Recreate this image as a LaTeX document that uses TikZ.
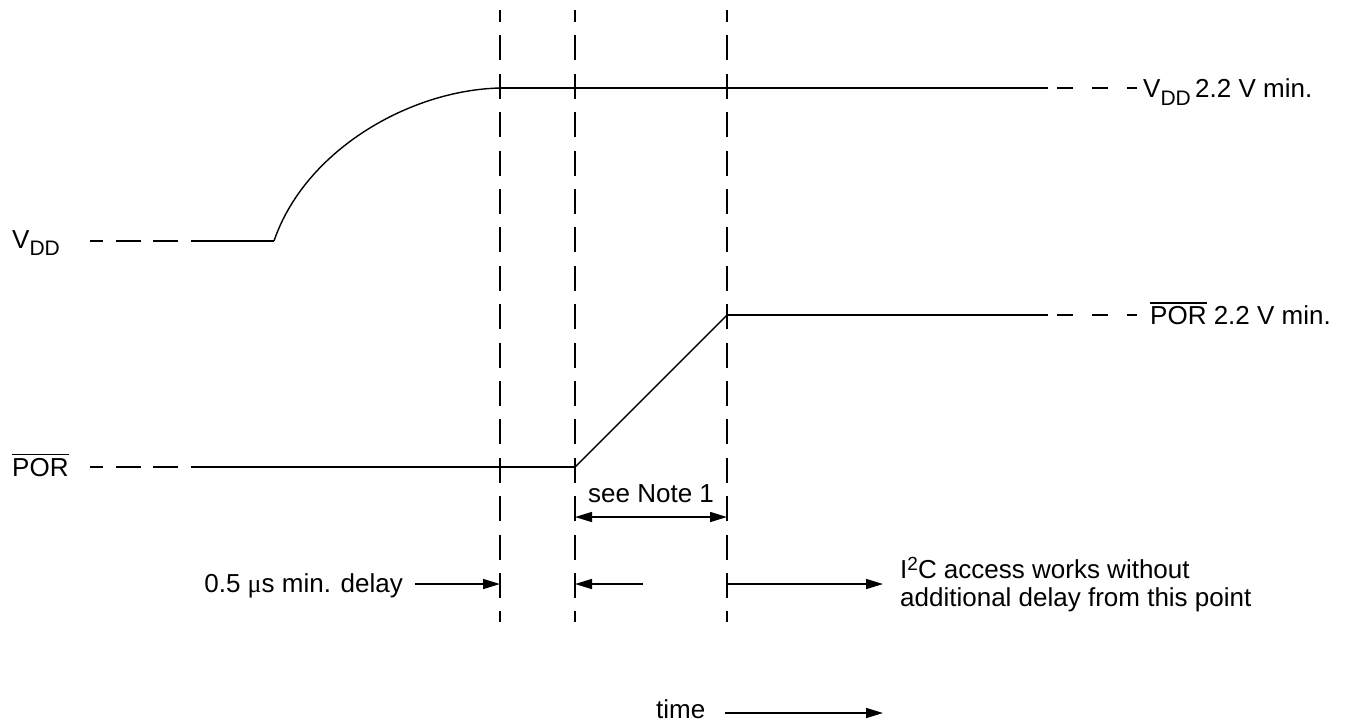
\documentclass[tikz,border=0pt]{standalone}
\usepackage{fontspec}
\setmainfont{Liberation Sans}
\newfontfamily\greekfont{Liberation Serif}
\usetikzlibrary{arrows.meta}
\newcommand\lsub[1]{\raisebox{-7.5pt}{\fontsize{21}{21}\selectfont #1}}
\newcommand\lsup[1]{\raisebox{8pt}{\fontsize{19}{19}\selectfont #1}}
\newcommand\lovl[1]{\vbox{\hrule height 1.6pt\kern 2.5pt\hbox{#1}}}
\begin{document}
\begin{tikzpicture}[x=1pt,y=-1pt, font=\fontsize{26}{25}\selectfont,
  sig/.style={line width=2.6pt},
  thinsig/.style={line width=1.4pt},
  gridline/.style={line width=1.7pt, dash pattern=on 25pt off 13.4pt, dash phase=13pt},
  lead/.style={line width=1.7pt, dash pattern=on 25pt off 12.5pt, dash phase=12pt},
  tail/.style={line width=1.7pt, dash pattern=on 16pt off 9pt on 16pt off 19pt on 16pt off 19pt},
  tip/.tip={Triangle[length=17pt,width=10pt]},
  arr/.style={line width=1.5pt, -tip},
  darr/.style={line width=1.5pt, tip-tip},
  lbl/.style={inner sep=0pt, anchor=base west}]
\useasboundingbox (0,0) rectangle (1349,724);
% vertical dashed reference lines
\foreach \n/\x in {a/500,b/575,c/727}{
  \coordinate (g\n t) at (\x,10);
  \coordinate (g\n b) at (\x,622);
  \draw[gridline] (g\n t) -- (g\n b);
}
% VDD waveform
\coordinate (vl0) at (90,241);
\coordinate (vl1) at (203,241);
\coordinate (vl2) at (274,241);
\coordinate (vh0) at (500,88);
\coordinate (vh1) at (1032,88);
\coordinate (vh2) at (1137,88);
\draw[lead] (vl0) -- (vl1);
\draw[sig] (vl1) -- (vl2);
\draw[thinsig] (vl2) .. controls (305,150) and (410,90) .. (vh0);
\draw[sig] (vh0) -- (vh1);
\draw[tail] (vh1) -- (vh2);
% POR waveform
\coordinate (pl0) at (90,467);
\coordinate (pl1) at (203,467);
\coordinate (pl2) at (575,467);
\coordinate (ph0) at (727,315);
\coordinate (ph1) at (1032,315);
\coordinate (ph2) at (1137,315);
\draw[lead] (pl0) -- (pl1);
\draw[sig] (pl1) -- (pl2);
\draw[thinsig] (pl2) -- (ph0);
\draw[sig] (ph0) -- (ph1);
\draw[tail] (ph1) -- (ph2);
% labels
\node[lbl] (vddL) at (12,248) {V\lsub{DD}};
\node[lbl] (porL) at (12,476) {\lovl{POR}};
\node[lbl] (vddR) at (1143,97.5) {V\lsub{DD}\,2.2 V min.};
\node[lbl] (porR) at (1150,324.5) {\lovl{POR} 2.2 V min.};
\node[lbl] (note) at (588,502) {see Note 1};
\coordinate (n1) at (575,517);
\coordinate (n2) at (727,517);
\draw[darr] (n1) -- (n2);
% delay arrows
\node[inner sep=0pt, anchor=base east] (delay) at (403,592) {0.5 {\greekfont μ}s min. delay};
\coordinate (a1s) at (415,584);
\coordinate (a1e) at (500,584);
\coordinate (a2s) at (643,584);
\coordinate (a2e) at (575,584);
\coordinate (a3s) at (727,584);
\coordinate (a3e) at (883,584);
\draw[arr] (a1s) -- (a1e);
\draw[arr] (a2s) -- (a2e);
\draw[arr] (a3s) -- (a3e);
\node[lbl] (i2ca) at (900,578.5) {I\lsup{2}C access works without};
\node[lbl] (i2cb) at (900,606) {additional delay from this point};
% time axis
\node[lbl] (time) at (656,718) {time};
\coordinate (t1) at (725,713);
\coordinate (t2) at (883,713);
\draw[arr] (t1) -- (t2);
\end{tikzpicture}
\end{document}
